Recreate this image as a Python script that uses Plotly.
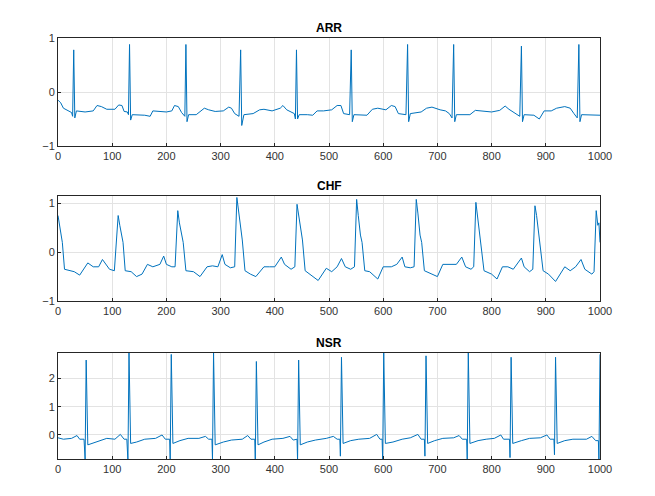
import plotly.graph_objects as go

# (sample, value) points
arr_pts = [(0,-0.15),(5,-0.2),(10,-0.3),(20,-0.35),(25,-0.38),(27,-0.45),(29,0.78),(31,-0.48),(34,-0.35),(50,-0.37),(65,-0.35),(72,-0.25),(80,-0.27),(90,-0.32),(105,-0.32),(112,-0.24),(118,-0.25),(122,-0.36),(128,-0.37),(130,-0.42),(132,0.88),(134,-0.52),(137,-0.42),(160,-0.43),(170,-0.45),(175,-0.35),(185,-0.36),(200,-0.37),(210,-0.35),(215,-0.25),(222,-0.27),(228,-0.38),(234,-0.45),(236,0.88),(238,-0.55),(241,-0.42),(255,-0.42),(262,-0.36),(270,-0.3),(278,-0.33),(290,-0.36),(305,-0.35),(315,-0.28),(320,-0.3),(326,-0.4),(334,-0.45),(337,0.78),(339,-0.62),(343,-0.42),(360,-0.4),(372,-0.33),(380,-0.32),(395,-0.35),(410,-0.3),(415,-0.25),(422,-0.33),(436,-0.4),(438,-0.5),(440,0.78),(442,-0.5),(445,-0.42),(460,-0.42),(470,-0.43),(478,-0.35),(490,-0.35),(505,-0.33),(515,-0.25),(522,-0.25),(527,-0.4),(538,-0.42),(541,0.78),(543,-0.55),(546,-0.42),(570,-0.43),(580,-0.32),(590,-0.3),(605,-0.33),(615,-0.25),(622,-0.27),(628,-0.4),(642,-0.42),(645,0.88),(647,-0.55),(650,-0.4),(670,-0.37),(680,-0.3),(690,-0.28),(705,-0.33),(715,-0.35),(722,-0.4),(727,-0.48),(730,0.88),(732,-0.55),(735,-0.42),(760,-0.42),(770,-0.34),(785,-0.35),(800,-0.37),(815,-0.34),(825,-0.26),(832,-0.32),(845,-0.4),(852,-0.45),(855,0.85),(857,-0.55),(860,-0.42),(878,-0.43),(888,-0.5),(897,-0.35),(910,-0.35),(920,-0.3),(935,-0.27),(945,-0.3),(952,-0.4),(958,-0.48),(961,0.88),(963,-0.55),(966,-0.42),(985,-0.42),(1000,-0.43)]

chf_pts = [(0,0.75),(3,0.5),(6,0.35),(8,0.2),(12,-0.35),(20,-0.37),(30,-0.4),(40,-0.47),(50,-0.3),(55,-0.22),(65,-0.3),(75,-0.3),(82,-0.15),(88,-0.25),(95,-0.35),(104,-0.38),(108,0.3),(111,0.75),(114,0.55),(118,0.3),(120,0.2),(124,-0.38),(135,-0.4),(145,-0.5),(155,-0.45),(165,-0.25),(175,-0.3),(188,-0.25),(195,-0.08),(200,-0.25),(210,-0.3),(216,-0.3),(219,0.4),(221,0.85),(224,0.6),(228,0.35),(231,0.2),(236,-0.38),(250,-0.4),(262,-0.5),(275,-0.3),(285,-0.28),(295,-0.3),(303,-0.05),(308,-0.25),(318,-0.32),(326,-0.3),(330,1.12),(333,0.85),(337,0.4),(340,0.25),(345,-0.38),(355,-0.45),(365,-0.5),(380,-0.3),(390,-0.3),(400,-0.3),(412,-0.1),(418,-0.25),(430,-0.35),(437,-0.3),(441,0.98),(444,0.75),(448,0.4),(451,0.25),(456,-0.38),(465,-0.45),(480,-0.58),(495,-0.33),(505,-0.4),(515,-0.3),(523,-0.13),(530,-0.3),(540,-0.35),(547,-0.3),(551,1.08),(554,0.75),(558,0.35),(561,0.2),(566,-0.38),(575,-0.4),(590,-0.55),(600,-0.3),(615,-0.3),(625,-0.25),(635,-0.1),(640,-0.3),(650,-0.32),(657,-0.3),(661,1.08),(664,0.8),(668,0.35),(671,0.2),(676,-0.38),(690,-0.45),(700,-0.5),(710,-0.25),(725,-0.25),(735,-0.25),(745,-0.1),(752,-0.3),(762,-0.35),(767,-0.3),(771,1.02),(774,0.75),(778,0.35),(781,0.15),(786,-0.38),(800,-0.45),(810,-0.55),(820,-0.3),(830,-0.3),(840,-0.35),(855,-0.12),(860,-0.3),(870,-0.4),(876,-0.35),(880,0.95),(883,0.75),(887,0.35),(890,0.15),(895,-0.38),(905,-0.45),(918,-0.6),(935,-0.3),(945,-0.38),(955,-0.3),(965,-0.15),(972,-0.35),(985,-0.45),(989,-0.4),(993,0.85),(996,0.55),(998,0.6),(1000,0.2)]

nsr_pts = [(0,-0.1),(10,-0.15),(25,-0.12),(35,-0.02),(40,-0.15),(48,-0.15),(50,-0.85),(52,2.65),(55,-0.35),(62,-0.3),(75,-0.2),(90,-0.12),(105,-0.15),(115,0.02),(122,-0.15),(127,-0.15),(129,-0.9),(131,2.9),(134,-0.3),(145,-0.25),(160,-0.15),(180,-0.12),(192,0.0),(198,-0.15),(206,-0.15),(207,-0.85),(209,2.85),(212,-0.3),(225,-0.2),(240,-0.12),(260,-0.12),(272,-0.05),(278,-0.15),(284,-0.15),(285,-0.85),(287,2.9),(290,-0.35),(305,-0.25),(320,-0.18),(340,-0.15),(350,-0.02),(356,-0.15),(363,-0.15),(364,-0.9),(366,2.6),(369,-0.35),(380,-0.25),(395,-0.15),(415,-0.12),(428,-0.05),(434,-0.18),(441,-0.15),(442,-0.9),(444,2.65),(447,-0.35),(460,-0.25),(475,-0.18),(495,-0.12),(508,-0.05),(515,-0.15),(520,-0.15),(521,-0.75),(523,2.75),(526,-0.3),(540,-0.2),(555,-0.15),(575,-0.12),(588,0.02),(594,-0.15),(598,-0.15),(599,-0.9),(601,2.9),(604,-0.3),(618,-0.25),(635,-0.15),(650,-0.1),(664,0.02),(670,-0.15),(676,-0.15),(677,-0.75),(679,2.8),(682,-0.3),(695,-0.2),(710,-0.12),(730,-0.1),(740,-0.02),(746,-0.15),(754,-0.15),(755,-0.85),(757,2.9),(760,-0.3),(775,-0.2),(790,-0.15),(805,-0.12),(817,0.0),(822,-0.15),(833,-0.15),(834,-0.8),(836,2.75),(839,-0.3),(855,-0.2),(870,-0.12),(890,-0.1),(902,0.0),(908,-0.15),(915,-0.15),(916,-0.7),(918,2.75),(921,-0.3),(935,-0.2),(950,-0.15),(975,-0.15),(985,-0.05),(992,-0.2),(997,-0.2),(998,-0.9),(1000,2.85)]

titles = ["ARR", "CHF", "NSR"]
x_ticks = list(range(0, 1001, 100))
y_ticks = [[-1, 0, 1], [-1, 0, 1], [0, 1, 2]]
y_ranges = [[-1, 1], [-1, 1.15], [-0.85, 2.9]]

# panel domains in paper fractions (minus the 8px page margin)
xdom = [50/655, 592/655]
ydoms = [[1-138/496, 1-30/496], [1-293/496, 1-188/496], [1-451/496, 1-345/496]]

fig = go.Figure()
for i, pts in enumerate([arr_pts, chf_pts, nsr_pts]):
    n = "" if i == 0 else str(i+1)
    xs, ys = zip(*pts)
    fig.add_trace(go.Scatter(x=xs, y=ys, mode="lines", xaxis="x"+n, yaxis="y"+n,
                             line=dict(color="#0072BD", width=1), showlegend=False))
    ax = dict(domain=xdom, range=[0, 1000], tickvals=x_ticks, showgrid=True, gridcolor="#e3e3e3",
              zeroline=False, showline=True, mirror=True, linecolor="#262626", ticks="inside",
              ticklen=3, tickcolor="#262626", anchor="y"+n, automargin=False,
              tickfont=dict(size=11, color="#333333"))
    ay = dict(domain=ydoms[i], range=y_ranges[i], tickvals=y_ticks[i], showgrid=True, gridcolor="#e3e3e3",
              zeroline=False, showline=True, mirror=True, linecolor="#262626", ticks="inside",
              ticklen=3, tickcolor="#262626", anchor="x"+n, automargin=False,
              tickfont=dict(size=11, color="#333333"))
    fig.update_layout({"xaxis"+n: ax, "yaxis"+n: ay})
    fig.add_annotation(text="<b>" + titles[i] + "</b>", x=0.5*(xdom[0]+xdom[1]), y=ydoms[i][1],
                       xref="paper", yref="paper", yanchor="bottom", showarrow=False, yshift=1,
                       font=dict(size=12, color="black"))

fig.update_layout(width=655, height=496, margin=dict(l=0, r=0, t=0, b=0, autoexpand=False),
                  paper_bgcolor="white", plot_bgcolor="white",
                  font=dict(family="Liberation Sans, Arial, sans-serif"))
fig.write_html("out.html")
